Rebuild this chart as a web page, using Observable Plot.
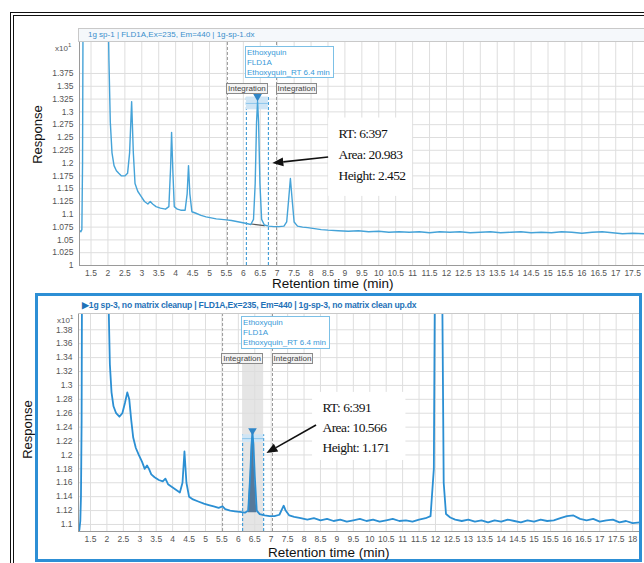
<!DOCTYPE html>
<html><head><meta charset="utf-8">
<script src="https://cdn.jsdelivr.net/npm/d3@7"></script>
<script src="https://cdn.jsdelivr.net/npm/@observablehq/plot@0.6"></script>
<style>
body{margin:0;background:#fff;}
#wrap{position:relative;width:644px;height:563px;overflow:hidden;background:#fff;font-family:Arial,"Liberation Sans",sans-serif;}
#wrap svg{position:absolute;left:0;overflow:visible;}
.abs{position:absolute;white-space:nowrap;}
.hdr{position:absolute;box-sizing:border-box;font-size:8px;line-height:12px;padding-left:9px;white-space:nowrap;}
.cmp{position:absolute;box-sizing:border-box;border:1px solid #7cc0e6;background:#fff;color:#3a9ad8;font-size:8px;line-height:10px;padding:1px 0 0 1px;}
.intg{position:absolute;box-sizing:border-box;border:1px solid #8a8a8a;background:#f3f3f3;color:#444;font-size:8px;line-height:9px;text-align:center;height:11px;}
.ylab{position:absolute;font-size:13px;color:#111;transform:rotate(-90deg);transform-origin:center;}
.xlab{position:absolute;font-size:13.5px;color:#111;}
.exp{position:absolute;font-size:8px;color:#555;}
</style></head><body><div id="wrap"></div>
<script>
// ---------- data ----------
const topTime = [1.16,1.20,1.23,1.25,1.27,1.98,2.03,2.07,2.12,2.18,2.25,2.32,2.40,2.50,2.58,2.64,2.70,2.75,2.80,2.88,2.98,3.08,3.18,3.25,3.32,3.42,3.55,3.70,3.80,3.85,3.88,3.92,3.96,4.05,4.15,4.28,4.34,4.38,4.42,4.48,4.60,4.75,4.90,5.05,5.20,5.35,5.50,5.65,5.80,5.95,6.10,6.22,6.30,6.35,6.39,6.42,6.45,6.49,6.54,6.62,6.75,6.90,7.05,7.20,7.28,7.34,7.39,7.44,7.50,7.60,7.75,7.90,8.10,8.30,8.50,8.80,9.10,9.40,9.70,10.0,10.3,10.6,10.9,11.2,11.5,11.8,12.1,12.4,12.7,13.0,13.3,13.6,13.9,14.2,14.5,14.8,15.1,15.4,15.7,16.0,16.3,16.6,16.9,17.2,17.5,17.85];
const topResp = [1.068,1.066,1.070,1.20,1.60,1.60,1.40,1.28,1.22,1.195,1.185,1.18,1.175,1.175,1.18,1.22,1.32,1.22,1.16,1.145,1.135,1.125,1.12,1.125,1.12,1.115,1.112,1.11,1.115,1.19,1.26,1.18,1.115,1.11,1.108,1.108,1.14,1.195,1.14,1.105,1.102,1.098,1.095,1.093,1.091,1.09,1.089,1.088,1.086,1.084,1.082,1.08,1.09,1.16,1.28,1.32,1.28,1.16,1.09,1.079,1.077,1.076,1.076,1.077,1.085,1.13,1.17,1.13,1.085,1.077,1.075,1.074,1.072,1.070,1.069,1.068,1.067,1.068,1.066,1.067,1.065,1.066,1.065,1.066,1.064,1.066,1.065,1.066,1.064,1.065,1.066,1.064,1.065,1.066,1.064,1.065,1.064,1.066,1.065,1.063,1.065,1.066,1.064,1.062,1.063,1.062];

const botTime = [1.135,1.16,1.19,1.21,1.23,1.25,2.00,2.05,2.09,2.14,2.20,2.28,2.38,2.47,2.55,2.62,2.68,2.74,2.80,2.88,2.97,3.07,3.15,3.22,3.28,3.35,3.45,3.58,3.70,3.78,3.86,3.98,4.10,4.22,4.30,4.36,4.42,4.50,4.62,4.78,4.95,5.10,5.25,5.40,5.52,5.60,5.75,5.90,6.05,6.20,6.30,6.36,6.40,6.43,6.46,6.50,6.56,6.65,6.80,6.95,7.10,7.25,7.33,7.38,7.44,7.55,7.70,7.90,8.1,8.3,8.5,8.7,8.9,9.1,9.3,9.5,9.7,9.9,10.1,10.3,10.5,10.7,10.9,11.1,11.3,11.5,11.7,11.85,11.95,12.00,12.18,12.25,12.32,12.45,12.6,12.8,13.0,13.2,13.4,13.6,13.8,14.0,14.2,14.4,14.6,14.8,15.0,15.2,15.4,15.6,15.8,16.0,16.2,16.4,16.6,16.8,17.0,17.2,17.4,17.6,17.8,18.0,18.24];
const botResp = [1.090,1.092,1.105,1.14,1.25,1.60,1.60,1.42,1.33,1.29,1.27,1.26,1.255,1.26,1.275,1.29,1.28,1.25,1.225,1.21,1.2,1.19,1.18,1.185,1.18,1.172,1.168,1.164,1.162,1.166,1.158,1.154,1.15,1.146,1.16,1.205,1.16,1.14,1.136,1.133,1.13,1.128,1.126,1.124,1.126,1.122,1.12,1.119,1.118,1.117,1.12,1.17,1.215,1.232,1.215,1.17,1.12,1.115,1.113,1.112,1.112,1.114,1.122,1.127,1.12,1.113,1.111,1.109,1.107,1.109,1.106,1.108,1.105,1.107,1.104,1.106,1.108,1.105,1.107,1.104,1.106,1.108,1.105,1.106,1.104,1.107,1.109,1.112,1.18,1.60,1.60,1.16,1.115,1.11,1.107,1.105,1.107,1.104,1.106,1.103,1.106,1.104,1.107,1.105,1.103,1.106,1.104,1.107,1.105,1.106,1.109,1.112,1.113,1.108,1.106,1.108,1.104,1.106,1.107,1.103,1.105,1.102,1.103];

const topYTicks = [1,1.025,1.05,1.075,1.1,1.125,1.15,1.175,1.2,1.225,1.25,1.275,1.3,1.325,1.35,1.375];
const botYTicks = [1.1,1.12,1.14,1.16,1.18,1.2,1.22,1.24,1.26,1.28,1.3,1.32,1.34,1.36,1.38];
const topXTicks = d3.range(1.5, 17.51, 0.5);
const botXTicks = d3.range(1.5, 18.01, 0.5);

// integration window: [left marker, start, end, right marker]
const topWindow = [5.53, 6.09, 6.74, 6.98];
const botWindow = [5.52, 6.13, 6.77, 7.04];
const topPeakRT = 6.42, topPeakTop = 1.33;
const botPeakRT = 6.43, botPeakTop = 1.235;
const botPeakRange = [6.28, 6.58], botPeakBase = 1.117;
const topBaseline = [[6.24, 1.081], [6.62, 1.078]];

const topNote = ["RT: 6:397", "Area: 20.983", "Height: 2.452"];
const botNote = ["RT: 6:391", "Area: 10.566", "Height: 1.171"];
const topHeader = "1g sp-1 | FLD1A,Ex=235, Em=440 | 1g-sp-1.dx";
const botHeader = "\u25B61g sp-3, no matrix cleanup | FLD1A,Ex=235, Em=440 | 1g-sp-3, no matrix clean up.dx";
const compoundLines = ["Ethoxyquin", "FLD1A", "Ethoxyquin_RT 6.4 min"];

const fmt = d => String(+d.toFixed(3));
const wrap = document.getElementById("wrap");

function panel(o) {
  const pts = o.time.map((t, i) => ({t, v: o.resp[i]}));
  const peakPts = pts.filter(d => d.t >= (o.peakRange ? o.peakRange[0] : 99) && d.t <= (o.peakRange ? o.peakRange[1] : -1));
  const w = o.win;
  const marks = [
    Plot.gridX(o.xTicks, {stroke: "#dedede", strokeOpacity: 1}),
    Plot.gridY(o.yTicks, {stroke: "#dedede", strokeOpacity: 1}),
  ];
  if (o.shade) marks.push(Plot.rect([0], {x1: w[1], x2: w[2], y1: o.yDomain[0], y2: o.shadeTop, fill: "#dcdcdc", fillOpacity: 0.75}));
  marks.push(
    Plot.ruleX([w[0], w[3]], {y1: o.yDomain[0], y2: o.yDomain[1], stroke: "#9a9a9a", strokeDasharray: "3,2"}),
    Plot.ruleX([w[1], w[2]], {y1: o.yDomain[0], y2: o.bandTop, stroke: "#3d9ad6", strokeDasharray: "3,2", strokeWidth: 1.1}),
    Plot.rect([0], {x1: w[1], x2: w[2], y1: o.bandBot, y2: o.bandTop, fill: "#cfe5f5"}),
    Plot.ruleY([ (o.bandBot + o.bandTop) / 2 ], {x1: w[1], x2: w[2], stroke: "#8cc6ec", strokeWidth: 1})
  );
  if (peakPts.length) marks.push(Plot.areaY(peakPts, {x: "t", y1: o.peakBase, y2: "v", fill: "#56799a"}));
  if (o.baseline) marks.push(Plot.line(o.baseline, {x: d => d[0], y: d => d[1], stroke: "#555", strokeWidth: 1.2}));
  marks.push(
    Plot.line(pts, {x: "t", y: "v", stroke: o.color, strokeWidth: o.lw, clip: true}),
    Plot.dot([0], {x: o.peakRT, y: o.peakTop, symbol: "triangle", rotate: 180, r: 3.2, fill: "#2f86c8", stroke: "none"}),
    Plot.rect([0], {x1: o.note.x1, x2: o.note.x2, y1: o.note.y1, y2: o.note.y2, fill: "#fff"}),
    Plot.text(o.noteLines, {x: o.note.tx, y: (d, i) => o.note.ty - i * o.note.dy, text: d => d, textAnchor: "start", lineAnchor: "middle",
      fontFamily: "'Liberation Serif','Times New Roman',serif", fontSize: 13.5, fill: "#111", className: "note"}),
    Plot.ruleX([o.xDomain[0]], {stroke: "#9a9a9a"}),
    Plot.ruleY([o.yDomain[0]], {stroke: "#9a9a9a"}),
    Plot.axisX(o.xTicks, {tickSize: 0, tickPadding: 4, tickFormat: fmt, fontSize: 8.5, fill: "#555", label: null}),
    Plot.axisY(o.yTicks, {tickSize: 0, tickPadding: 6, tickFormat: fmt, fontSize: 8.5, fill: "#555", label: null})
  );
  const svg = Plot.plot({
    width: 644, height: o.height,
    marginLeft: o.ml, marginRight: o.mr, marginTop: o.mt, marginBottom: o.mb,
    x: {domain: o.xDomain}, y: {domain: o.yDomain},
    style: {fontFamily: "Arial, 'Liberation Sans', sans-serif", background: "transparent"},
    marks
  });
  svg.style.top = o.top + "px";
  wrap.appendChild(svg);
  const sx = svg.scale("x"), sy = svg.scale("y");
  // condensed serif note text
  d3.select(svg).selectAll("g.note").attr("letter-spacing", "-0.55px");
  // arrow with filled head
  const [x1, y1] = [sx.apply(o.arrow[0][0]), sy.apply(o.arrow[0][1])];
  const [x2, y2] = [sx.apply(o.arrow[1][0]), sy.apply(o.arrow[1][1])];
  const ang = Math.atan2(y2 - y1, x2 - x1), L = 11, W = 4.5;
  const bx = x2 - L * Math.cos(ang), by = y2 - L * Math.sin(ang);
  const g = d3.select(svg).append("g");
  g.append("line").attr("x1", x1).attr("y1", y1).attr("x2", bx).attr("y2", by).attr("stroke", "#111").attr("stroke-width", 1.6);
  g.append("path").attr("d", `M${x2},${y2}L${bx - W * Math.sin(ang)},${by + W * Math.cos(ang)}L${bx + W * Math.sin(ang)},${by - W * Math.cos(ang)}Z`).attr("fill", "#111");
  return {sx: t => sx.apply(t), sy: v => o.top + sy.apply(v)};
}

function div(cls, css, html) {
  const d = document.createElement("div");
  d.className = cls; d.style.cssText = css; d.innerHTML = html; wrap.appendChild(d); return d;
}

// outer frame
div("abs", "left:10px;top:12px;width:660px;height:570px;border:4px double #111;box-sizing:border-box;", "");

// ---------- top panel ----------
const T = panel({
  time: topTime, resp: topResp, xTicks: topXTicks, yTicks: topYTicks,
  xDomain: [1.16, 17.85], yDomain: [1.0, 1.4355],
  top: 0, height: 290, ml: 79, mr: 0, mt: 42, mb: 25,
  color: "#45a3d8", lw: 1.4, win: topWindow,
  bandTop: 1.329, bandBot: 1.304, peakRT: topPeakRT, peakTop: topPeakTop,
  baseline: topBaseline,
  note: {x1: 8.52, x2: 11.0, y1: 1.135, y2: 1.288, tx: 8.81, ty: 1.2578, dy: 0.0415},
  noteLines: topNote,
  arrow: [[8.52, 1.211], [6.87, 1.199]]
});
div("hdr", "left:78px;top:28px;width:570px;height:14px;background:#f5f8fb;border:1px solid #c9c9c9;color:#3b8fcb;", topHeader);
div("cmp", `left:${T.sx(topWindow[1]) - 1}px;top:46px;width:89px;height:32px;`, compoundLines.join("<br>"));
div("intg", `left:${T.sx(topWindow[0]) - 1}px;top:83px;width:${T.sx(topWindow[2]) - T.sx(topWindow[0]) + 1}px;`, "Integration");
div("intg", `left:${T.sx(topWindow[3])}px;top:83px;width:41px;`, "Integration");
div("exp", "left:55px;top:42px;", "x10<sup style='font-size:6px'>1</sup>");
div("ylab", "left:5px;top:127px;width:64px;text-align:center;", "Response");
div("xlab", "left:272px;top:276px;", "Retention time (min)");

// ---------- bottom panel ----------
const B = panel({
  time: botTime, resp: botResp, xTicks: botXTicks, yTicks: botYTicks,
  xDomain: [1.135, 18.24], yDomain: [1.0899, 1.402],
  top: 290, height: 273, ml: 78, mr: 4, mt: 24, mb: 32,
  color: "#2b8fd3", lw: 1.8, win: botWindow, shade: true, shadeTop: 1.3317,
  bandTop: 1.229, bandBot: 1.218, peakRT: botPeakRT, peakTop: botPeakTop,
  peakRange: botPeakRange, peakBase: botPeakBase,
  note: {x1: 8.26, x2: 11.1, y1: 1.192, y2: 1.29, tx: 8.56, ty: 1.2683, dy: 0.0288},
  noteLines: botNote,
  arrow: [[8.38, 1.2424], [6.87, 1.202]]
});
div("abs", "left:35px;top:293px;width:607px;height:269px;border:3px solid #2d8fd5;box-sizing:border-box;", "");
div("hdr", "left:78px;top:297px;width:561px;height:17px;background:#fff;border-bottom:1px solid #c9c9c9;color:#1f72b8;font-weight:bold;font-size:8.6px;line-height:16px;padding-left:4px;letter-spacing:-0.2px;", botHeader);
div("cmp", `left:${B.sx(botWindow[1]) - 1}px;top:316px;width:89px;height:33px;`, compoundLines.join("<br>"));
div("intg", `left:${B.sx(botWindow[0]) - 1}px;top:353px;width:${B.sx(botWindow[2]) - B.sx(botWindow[0]) + 1}px;`, "Integration");
div("intg", `left:${B.sx(botWindow[3])}px;top:353px;width:41px;`, "Integration");
div("exp", "left:57px;top:314px;", "x10<sup style='font-size:6px'>1</sup>");
div("ylab", "left:-5px;top:422px;width:64px;text-align:center;", "Response");
div("xlab", "left:268px;top:545px;", "Retention time (min)");
</script></body></html>
